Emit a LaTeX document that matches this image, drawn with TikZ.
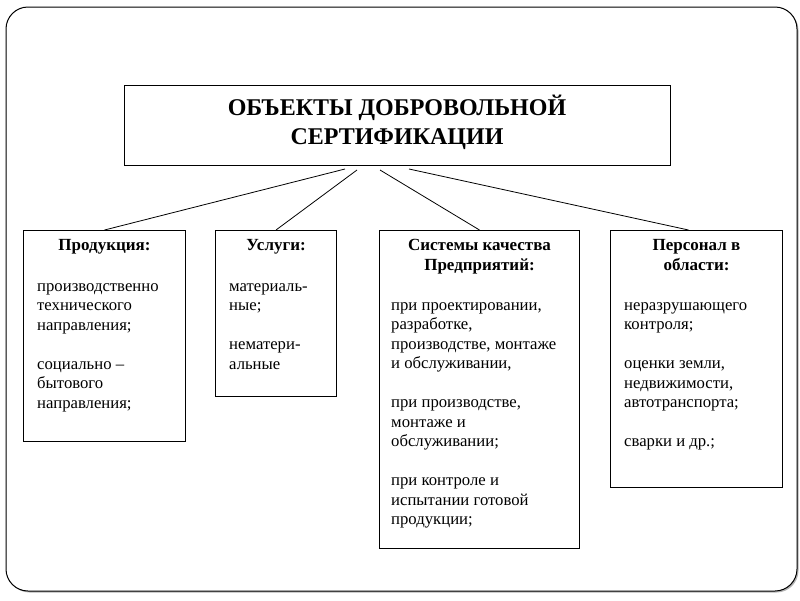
\documentclass[tikz,border=0pt]{standalone}
\usepackage{fontspec}
\setmainfont{Liberation Serif}
\usetikzlibrary{
    shadows,
    positioning,
}
\tikzstyle{frame} = [draw, line width=1pt, rounded corners=22pt, fill=white,
    drop shadow={shadow xshift=1.5pt, shadow yshift=-1.5pt, opacity=0.6}]
\tikzstyle{titlebox} = [draw, line width=1pt, minimum width=546pt,
    minimum height=80pt, align=center,
    font=\fontsize{24}{29}\selectfont\bfseries]
\tikzstyle{block} = [draw, line width=1pt, anchor=north west]
\tikzstyle{head} = [inner sep=0pt, align=center,
    font=\fontsize{17}{20}\selectfont\bfseries]
\tikzstyle{body} = [inner sep=0pt, align=left,
    font=\fontsize{16.7}{19.5}\selectfont]
\tikzstyle{line} = [draw, line width=0.8pt]

\begin{document}
\begin{tikzpicture}[x=1pt, y=-1pt]
        \useasboundingbox (0,0) rectangle (800,600);
        \draw [frame] (6,7) rectangle (797,591);
        % Place nodes
        \node [titlebox] (title) at (397,125)
            {ОБЪЕКТЫ ДОБРОВОЛЬНОЙ\\СЕРТИФИКАЦИИ\rule[-10.5pt]{0pt}{1pt}};
        \node [block, minimum width=162pt, minimum height=211pt] (prod) at (23,230) {};
        \node [block, minimum width=121pt, minimum height=166pt] (serv) at (215,230) {};
        \node [block, minimum width=200pt, minimum height=318pt] (qual) at (379,230) {};
        \node [block, minimum width=172pt, minimum height=257pt] (staff) at (610,230) {};
        % Headings
        \node [head, below=9pt of prod.north] (prod_h) {Продукция:};
        \node [head, below=9pt of serv.north] (serv_h) {Услуги:};
        \node [head, below=9pt of qual.north] (qual_h) {Системы качества\\Предприятий:};
        \node [head, below=9pt of staff.north] (staff_h) {Персонал в\\области:};
        % Item lists
        \node [body, below right=53pt and 14pt of prod.north west] (prod_b)
            {производственно\\технического\\направления;\\[19.5pt]
             социально –\\бытового\\направления;};
        \node [body, below right=53pt and 14pt of serv.north west] (serv_b)
            {материаль-\\ные;\\[19.5pt]нематери-\\альные};
        \node [body, below right=72pt and 12pt of qual.north west] (qual_b)
            {при проектировании,\\разработке,\\производстве, монтаже\\и обслуживании,\\[19.5pt]
             при производстве,\\монтаже и\\обслуживании;\\[19.5pt]
             при контроле и\\испытании готовой\\продукции;};
        \node [body, below right=72pt and 14pt of staff.north west] (staff_b)
            {неразрушающего\\контроля;\\[19.5pt]
             оценки земли,\\недвижимости,\\автотранспорта;\\[19.5pt]
             сварки и др.;};
        % Anchor points under the title
        \coordinate (t_prod) at (345,169);
        \coordinate (t_serv) at (357,170);
        \coordinate (t_qual) at (380,170);
        \coordinate (t_staff) at (409,169);
        % Draw edges
        \path [line] (t_prod) -- (prod.north);
        \path [line] (t_serv) -- (serv.north);
        \path [line] (t_qual) -- (qual.north);
        \path [line] (t_staff) -- ([xshift=-8pt]staff.north);
    \end{tikzpicture}
\end{document}
